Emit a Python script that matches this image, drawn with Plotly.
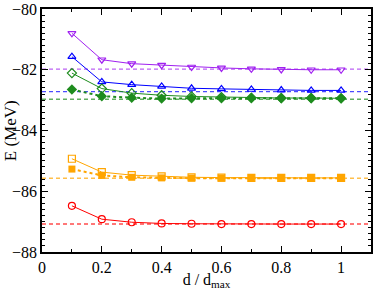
import plotly.graph_objects as go

x = [0.1, 0.2, 0.3, 0.4, 0.5, 0.6, 0.7, 0.8, 0.9, 1.0]
x_ref = [0.0, 1.1]

violet_open = [-80.80, -81.67, -81.80, -81.85, -81.91, -81.94, -81.97, -81.99, -82.00, -82.00]
violet_ref = -81.98

blue_open = [-81.57, -82.40, -82.49, -82.55, -82.61, -82.63, -82.65, -82.67, -82.68, -82.68]
blue_ref = -82.72

green_open = [-82.11, -82.62, -82.77, -82.84, -82.88, -82.90, -82.92, -82.93, -82.93, -82.94]
green_filled = [-82.65, -82.87, -82.92, -82.95, -82.94, -82.94, -82.94, -82.94, -82.94, -82.94]
green_ref = -82.97

orange_open = [-84.93, -85.37, -85.47, -85.51, -85.54, -85.55, -85.56, -85.56, -85.56, -85.56]
orange_filled = [-85.27, -85.48, -85.54, -85.56, -85.57, -85.57, -85.57, -85.57, -85.57, -85.57]
orange_ref = -85.57

red_open = [-86.48, -86.92, -87.02, -87.06, -87.07, -87.08, -87.08, -87.08, -87.08, -87.08]
red_ref = -87.08

VIOLET = "#A020F0"
BLUE = "#0000FF"
GREEN = "#1E8C1E"
ORANGE = "#FFA500"
RED = "#FF0000"

fig = go.Figure()

# reference dashed lines
for c, v in [(VIOLET, violet_ref), (BLUE, blue_ref), (GREEN, green_ref),
             (ORANGE, orange_ref), (RED, red_ref)]:
    fig.add_trace(go.Scatter(x=x_ref, y=[v, v], mode="lines",
                             line=dict(color=c, width=1.4, dash="4px,3px"),
                             opacity=0.7, showlegend=False, hoverinfo="skip"))

# dotted series with filled markers
fig.add_trace(go.Scatter(x=x, y=green_filled, mode="lines+markers",
                         line=dict(color=GREEN, width=2, dash="dot"),
                         marker=dict(symbol="diamond", size=8, color=GREEN),
                         showlegend=False))
fig.add_trace(go.Scatter(x=x, y=orange_filled, mode="lines+markers",
                         line=dict(color=ORANGE, width=2, dash="dot"),
                         marker=dict(symbol="square", size=7, color=ORANGE),
                         showlegend=False))

# solid series with open markers
for c, ys, sym in [(VIOLET, violet_open, "triangle-down-open"),
                   (BLUE, blue_open, "triangle-up-open"),
                   (GREEN, green_open, "diamond-open"),
                   (ORANGE, orange_open, "square-open"),
                   (RED, red_open, "circle-open")]:
    fig.add_trace(go.Scatter(x=x, y=ys, mode="lines+markers",
                             line=dict(color=c, width=1),
                             marker=dict(symbol=sym, size=7, color=c,
                                         line=dict(color=c, width=1.2)),
                             showlegend=False))

SERIF = "Liberation Serif"
font = dict(family=SERIF, size=16, color="black")

fig.update_layout(
    width=374, height=290,
    margin=dict(l=42, r=1, t=6, b=37),
    paper_bgcolor="white", plot_bgcolor="white",
    font=font,
    xaxis=dict(range=[0, 1.1], dtick=0.2, tick0=0, ticks="inside", ticklen=6,
               tickwidth=1, tickcolor="black", showline=True, linecolor="black",
               linewidth=1.5, mirror="ticks", showgrid=False, zeroline=False,
               tickformat="~g", ticklabeloverflow="allow",
               tickfont=dict(family=SERIF, size=16),
               minor=dict(dtick=0.1, tick0=0, ticks="inside", ticklen=3,
                          tickcolor="black", showgrid=False),
               title=dict(text="d / d<sub>max</sub>", standoff=2,
                          font=dict(family=SERIF, size=16))),
    yaxis=dict(range=[-88, -80], dtick=2, tick0=-88, ticks="inside", ticklen=6,
               tickwidth=1, tickcolor="black", showline=True, linecolor="black",
               linewidth=1.5, mirror="ticks", showgrid=False, zeroline=False,
               ticklabeloverflow="allow",
               tickfont=dict(family=SERIF, size=16),
               minor=dict(dtick=0.2, ticks="inside", ticklen=3,
                          tickcolor="black", showgrid=False)),
    annotations=[dict(text="E (MeV)", textangle=-90, showarrow=False,
                      xref="paper", yref="paper", x=-0.095, y=0.5,
                      xanchor="center", yanchor="middle",
                      font=dict(family=SERIF, size=17, color="black"))],
)

fig.write_html(
    "out.html",
    config={"displayModeBar": False},
    post_script="document.body.style.margin='0';document.body.style.padding='0';",
)
